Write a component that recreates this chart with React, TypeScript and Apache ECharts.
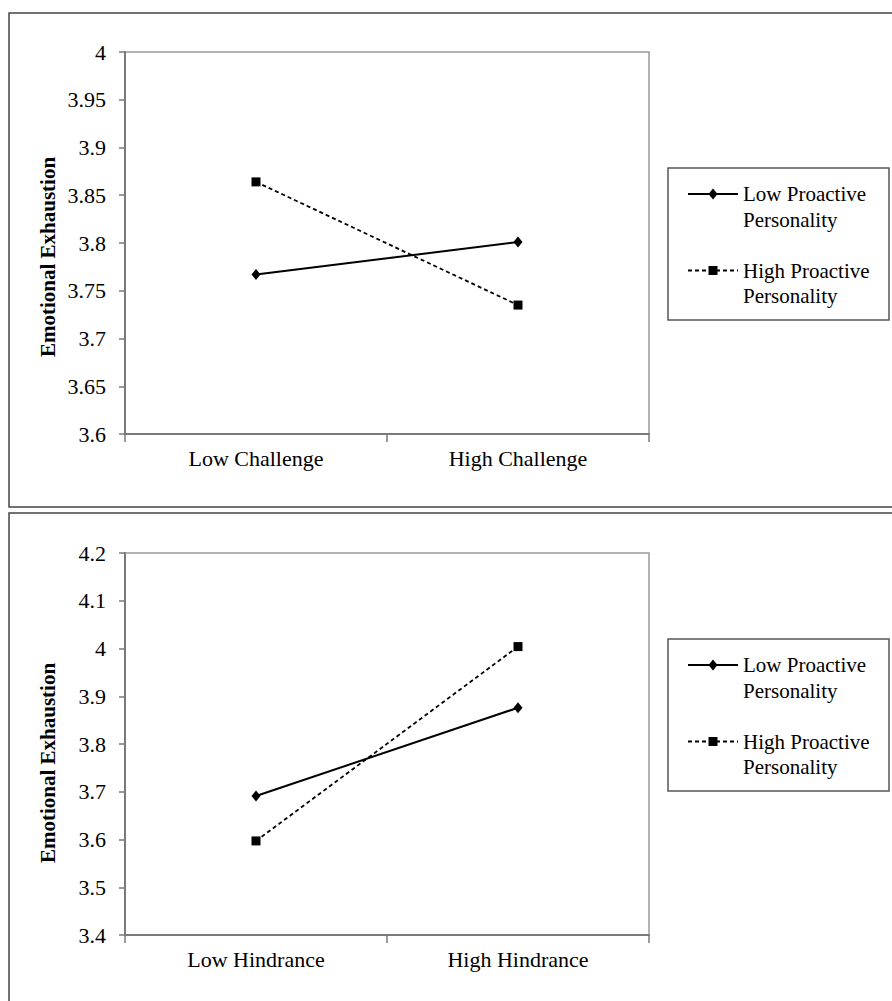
import React, { useEffect, useRef } from "react";
import * as echarts from "echarts";

const challengeCategories = ["Low Challenge", "High Challenge"];
const hindranceCategories = ["Low Hindrance", "High Hindrance"];
const seriesNames = ["Low Proactive Personality", "High Proactive Personality"];
const legendLines = [["Low Proactive", "Personality"], ["High Proactive", "Personality"]];
const challengeLow = [3.767, 3.801];
const challengeHigh = [3.864, 3.735];
const hindranceLow = [3.691, 3.876];
const hindranceHigh = [3.597, 4.004];
const yTitle = "Emotional Exhaustion";

const FONT = "'Liberation Serif', 'Times New Roman', serif";

export default function App() {
  const ref = useRef<HTMLDivElement>(null);
  useEffect(() => {
    if (!ref.current) return;
    const chart = echarts.init(ref.current, null, { renderer: "svg" });

    const gridTops = [52, 553];
    const legendTops = [168, 639];
    const titleY = [257, 763];

    const fmt = (v: number) => String(+Number(v).toFixed(2));

    const makeX = (cats: string[], gi: number) => ({
      type: "category",
      gridIndex: gi,
      data: cats,
      boundaryGap: true,
      axisLine: { lineStyle: { color: "#7a7a7a", width: 2 } },
      axisTick: { show: true, length: 8, lineStyle: { color: "#7a7a7a", width: 1.5 } },
      axisLabel: { color: "#000", fontFamily: FONT, fontSize: 22, margin: 13 },
      splitLine: { show: false },
    });
    const makeY = (min: number, max: number, interval: number, gi: number) => ({
      type: "value",
      gridIndex: gi,
      min,
      max,
      interval,
      axisLine: { show: true, lineStyle: { color: "#7a7a7a", width: 2 } },
      axisTick: { show: true, length: 6, lineStyle: { color: "#7a7a7a", width: 1.5 } },
      axisLabel: { color: "#000", fontFamily: FONT, fontSize: 22, margin: 19, formatter: fmt },
      splitLine: { show: false },
    });

    const lowSeries = (data: number[], gi: number) => ({
      name: seriesNames[0],
      type: "line",
      xAxisIndex: gi,
      yAxisIndex: gi,
      data,
      symbol: "diamond",
      symbolSize: [9, 11],
      itemStyle: { color: "#000" },
      lineStyle: { color: "#000", width: 2, type: "solid" },
    });
    const highSeries = (data: number[], gi: number) => ({
      name: seriesNames[1],
      type: "line",
      xAxisIndex: gi,
      yAxisIndex: gi,
      data,
      symbol: "rect",
      symbolSize: 9,
      itemStyle: { color: "#000" },
      lineStyle: { color: "#000", width: 1.8, type: [4, 3] },
    });

    const graphics: any[] = [];
    graphics.push({
      type: "rect",
      shape: { x: 9, y: 13, width: 1000, height: 494 },
      style: { fill: "none", stroke: "#444", lineWidth: 1.5 },
      silent: true,
    });
    graphics.push({
      type: "rect",
      shape: { x: 9, y: 513, width: 1000, height: 600 },
      style: { fill: "none", stroke: "#444", lineWidth: 1.5 },
      silent: true,
    });
    for (let p = 0; p < 2; p++) {
      const top = legendTops[p];
      graphics.push({
        type: "rect",
        shape: { x: 668, y: top, width: 221, height: 152 },
        style: { fill: "#fff", stroke: "#555", lineWidth: 1.5 },
        silent: true,
      });
      for (let i = 0; i < 2; i++) {
        const cy = top + 26 + i * 76.5;
        graphics.push({
          type: "line",
          shape: { x1: 688, y1: cy, x2: 738, y2: cy },
          style: i === 0 ? { stroke: "#000", lineWidth: 2 } : { stroke: "#000", lineWidth: 1.8, lineDash: [4, 3] },
          silent: true,
        });
        if (i === 0) {
          graphics.push({
            type: "polygon",
            shape: { points: [[713, cy - 5.5], [717.5, cy], [713, cy + 5.5], [708.5, cy]] },
            style: { fill: "#000" },
            silent: true,
          });
        } else {
          graphics.push({
            type: "rect",
            shape: { x: 708.5, y: cy - 4.5, width: 9, height: 9 },
            style: { fill: "#000" },
            silent: true,
          });
        }
        graphics.push({
          type: "text",
          x: 743,
          y: cy,
          style: { text: legendLines[i][0], fontFamily: FONT, fontSize: 21, fill: "#000", align: "left", verticalAlign: "middle" },
          silent: true,
        });
        graphics.push({
          type: "text",
          x: 743,
          y: cy + 25.5,
          style: { text: legendLines[i][1], fontFamily: FONT, fontSize: 21, fill: "#000", align: "left", verticalAlign: "middle" },
          silent: true,
        });
      }
      graphics.push({
        type: "text",
        x: 48,
        y: titleY[p],
        rotation: Math.PI / 2,
        style: { text: yTitle, fontFamily: FONT, fontWeight: "bold", fontSize: 21, fill: "#000", align: "center", verticalAlign: "middle" },
        silent: true,
      });
    }

    chart.setOption({
      animation: false,
      backgroundColor: "#fff",
      textStyle: { fontFamily: FONT },
      grid: gridTops.map((t) => ({
        left: 125,
        top: t,
        width: 524,
        height: 382,
        show: true,
        borderColor: "#9a9a9a",
        borderWidth: 1.5,
        backgroundColor: "transparent",
        containLabel: false,
      })),
      xAxis: [makeX(challengeCategories, 0), makeX(hindranceCategories, 1)],
      yAxis: [makeY(3.6, 4.0, 0.05, 0), makeY(3.4, 4.2, 0.1, 1)],
      series: [
        lowSeries(challengeLow, 0),
        highSeries(challengeHigh, 0),
        lowSeries(hindranceLow, 1),
        highSeries(hindranceHigh, 1),
      ],
      graphic: graphics,
    });
    return () => chart.dispose();
  }, []);
  return <div ref={ref} style={{ position: "absolute", left: 0, top: 0, width: 892, height: 1001 }} />;
}
